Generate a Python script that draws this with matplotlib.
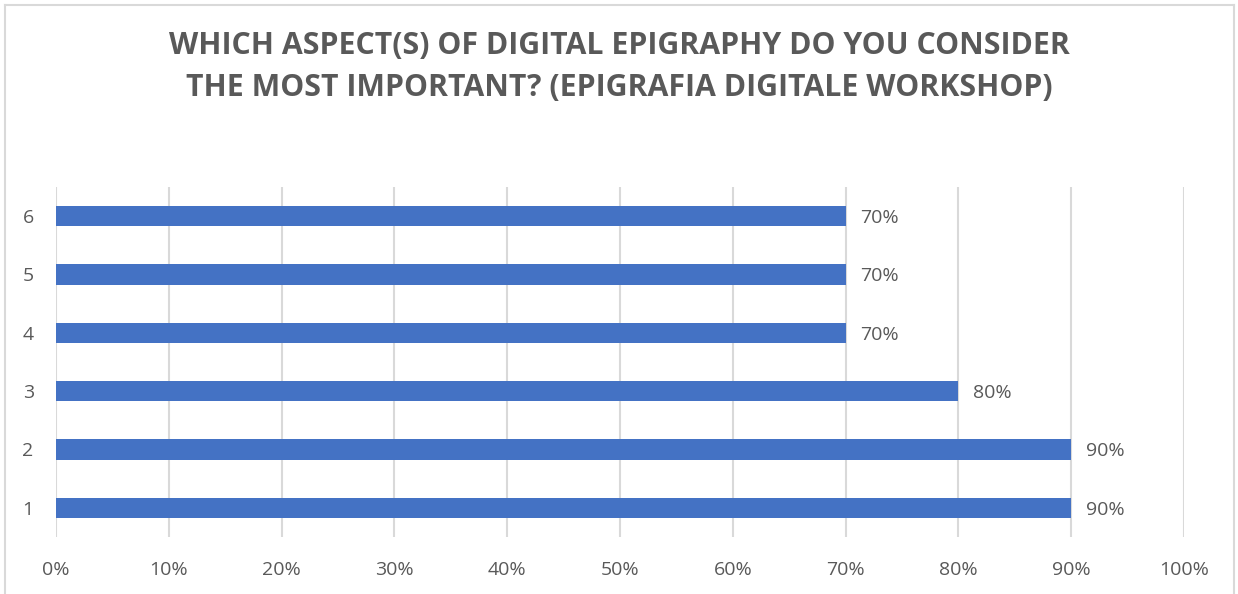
import matplotlib.pyplot as plt
from matplotlib.lines import Line2D

categories = ["1", "2", "3", "4", "5", "6"]
values = [90, 90, 80, 70, 70, 70]
x_ticks = [0, 10, 20, 30, 40, 50, 60, 70, 80, 90, 100]
tick_labels = [f"{t}%" for t in x_ticks]

title = ("WHICH ASPECT(S) OF DIGITAL EPIGRAPHY DO YOU CONSIDER\n"
         "THE MOST IMPORTANT? (EPIGRAFIA DIGITALE WORKSHOP)")

bar_color = "#4472C4"
text_color = "#595959"
grid_color = "#D9D9D9"

plt.rcParams["font.family"] = ["Open Sans", "DejaVu Sans"]

fig = plt.figure(figsize=(12.38, 5.94), dpi=100)
ax = fig.add_axes([0.0452, 0.0960, 0.9112, 0.5892])

ypos = list(range(1, len(categories) + 1))
ax.barh(ypos, values, height=0.35, color=bar_color, zorder=3)

for y, v in zip(ypos, values):
    ax.text(v + 1.3, y, f"{v}%", va="center_baseline", ha="left",
            fontsize=14, color=text_color)

ax.set_xlim(0, 100)
ax.set_ylim(0.5, len(categories) + 0.5)
ax.set_xticks(x_ticks)
ax.set_xticklabels(tick_labels)
ax.set_yticks(ypos)
ax.set_yticklabels(categories)
ax.tick_params(axis="both", length=0, labelsize=14, colors=text_color)
ax.tick_params(axis="x", pad=17)
ax.tick_params(axis="y", pad=16)

ax.xaxis.grid(True, color=grid_color, linewidth=1.5, zorder=0)
for s in ax.spines.values():
    s.set_visible(False)

fig.text(0.5, 0.887, title, ha="center", va="center", fontsize=21.8,
         fontweight="bold", color=text_color, linespacing=1.5)

# chart frame (open at the bottom)
frame_kw = dict(color=grid_color, linewidth=1.5, transform=fig.transFigure)
fig.add_artist(Line2D([0.004, 0.004], [0.0, 0.992], **frame_kw))
fig.add_artist(Line2D([0.004, 0.997], [0.992, 0.992], **frame_kw))
fig.add_artist(Line2D([0.997, 0.997], [0.0, 0.992], **frame_kw))

fig.savefig("out.png", dpi=100)
